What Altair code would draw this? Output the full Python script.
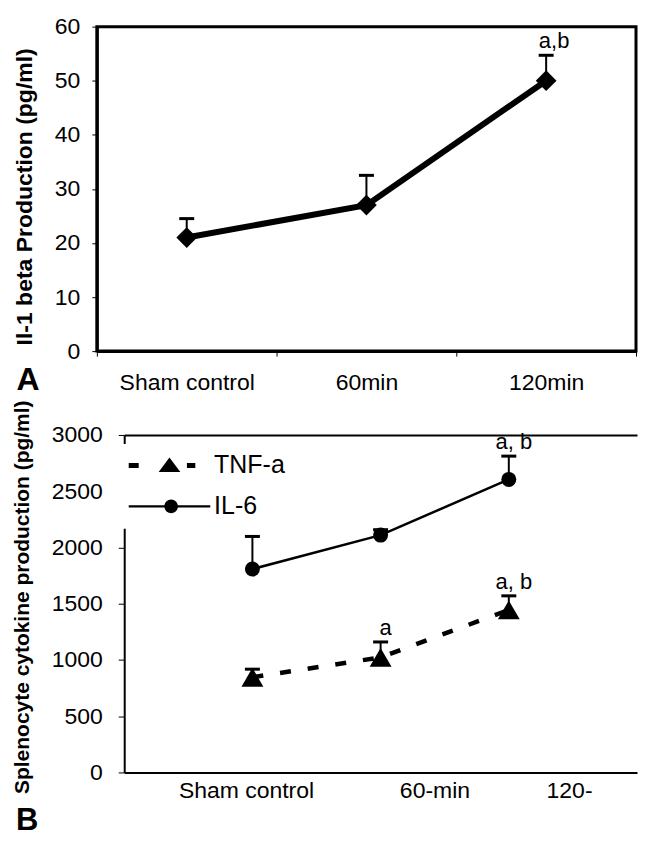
import altair as alt
import pandas as pd

# ---------------- Panel A data ----------------
a_cats = ["Sham control", "60min", "120min"]
a_mean = [21.0, 27.0, 50.0]
a_sem = [3.5, 5.5, 4.7]
a_notes = ["", "", "a,b"]

# ---------------- Panel B data ----------------
b_cats = ["Sham control", "60-min", "120-"]
b_pos = [1, 2, 3]
legend_labels = ["TNF-a", "IL-6"]
tnf_mean = [846, 1023, 1445]
tnf_sem = [72, 137, 125]
tnf_notes = ["", "a", "a, b"]
il6_mean = [1808, 2110, 2605]
il6_sem = [290, 48, 207]
il6_notes = ["", "", "a, b"]

FONT = "Liberation Sans"
W = 540          # common view width of both panels
SHIFT_B = 27.4   # panel B's y-axis sits this far right of panel A's

dfA = pd.DataFrame({
    "cat": a_cats,
    "mean": a_mean,
    "top": [m + s for m, s in zip(a_mean, a_sem)],
    "note": a_notes,
})

rows = []
for name, means, sems, notes in [
    (legend_labels[0], tnf_mean, tnf_sem, tnf_notes),
    (legend_labels[1], il6_mean, il6_sem, il6_notes),
]:
    for p, m, s, n in zip(b_pos, means, sems, notes):
        rows.append({"series": name, "pos": p, "mean": m, "top": m + s, "note": n})
dfB = pd.DataFrame(rows)

# ---------------- Panel A ----------------
xA = alt.X(
    "cat:N", sort=a_cats,
    scale=alt.Scale(paddingInner=0, paddingOuter=0),
    axis=alt.Axis(
        title="A", titleX=-81, titleY=38, titleAlign="left",
        titleBaseline="alphabetic", titleFontSize=32, titleFontWeight="bold",
        labelAngle=0, labelFontSize=23, labelPadding=15, tickSize=5,
        tickBand="extent", domainWidth=3,
    ),
)
yA = alt.Y(
    "mean:Q",
    scale=alt.Scale(domain=[0, 60], nice=False),
    axis=alt.Axis(
        values=[0, 10, 20, 30, 40, 50, 60], format="d",
        title="Il-1 beta Production (pg/ml)", titleFontSize=23,
        titleFontWeight="bold", titlePadding=18, titleY=170,
        labelFontSize=23, labelPadding=12, tickSize=5, domainWidth=3,
    ),
)

baseA = alt.Chart(dfA)
stemsA = baseA.mark_rule(color="black", strokeWidth=2).encode(
    x=xA, y=yA, y2="top:Q")
capsA = baseA.mark_tick(color="black", thickness=3, size=15,
                        orient="horizontal", opacity=1).encode(x=xA, y="top:Q")
lineA = baseA.mark_line(color="black", strokeWidth=6).encode(x=xA, y=yA)
ptsA = baseA.mark_point(shape="diamond", filled=True, size=430,
                        color="black", opacity=1).encode(x=xA, y=yA)
notesA = baseA.mark_text(dx=8, dy=-7, fontSize=22, baseline="alphabetic",
                         align="center", color="black").encode(
    x=xA, y="top:Q", text="note:N")

chartA = alt.layer(stemsA, capsA, lineA, ptsA, notesA).properties(
    width=W, height=325,
    view=alt.ViewBackground(stroke="black", strokeWidth=3),
)

# ---------------- Panel B ----------------
label_expr = (
    f"datum.value < 1.5 ? '{b_cats[0]}' : "
    f"(datum.value < 3 ? '{b_cats[1]}' : '{b_cats[2]}')"
)
xB = alt.X(
    "pos:Q",
    scale=alt.Scale(domain=[0, 4], nice=False, range=[SHIFT_B, W + 1]),
    axis=alt.Axis(
        values=[0.95, 2.42, 3.47], labelExpr=label_expr,
        title="B", titleX=-81.6, titleY=57, titleAlign="left",
        titleBaseline="alphabetic", titleFontSize=31, titleFontWeight="bold",
        labelFontSize=23, labelPadding=7, ticks=False, domainWidth=2,
        labelFlush=False, labelOverlap=False,
    ),
)
yB = alt.Y(
    "mean:Q",
    scale=alt.Scale(domain=[0, 3000], nice=False),
    axis=alt.Axis(
        values=[0, 500, 1000, 1500, 2000, 2500, 3000], format="d",
        offset=-SHIFT_B,
        title="Splenocyte cytokine production (pg/ml)", titleFontSize=21,
        titleFontWeight="bold", titlePadding=19, titleY=162,
        labelFontSize=23, labelPadding=16, tickSize=6, domainWidth=2,
    ),
)

baseB = alt.Chart(dfB)
tnfB = baseB.transform_filter(alt.datum.series == legend_labels[0])
il6B = baseB.transform_filter(alt.datum.series == legend_labels[1])

stemsB = baseB.mark_rule(color="black", strokeWidth=2).encode(
    x=xB, y=yB, y2="top:Q")
capsB = baseB.mark_tick(color="black", thickness=3, size=15,
                        orient="horizontal", opacity=1).encode(x=xB, y="top:Q")
lineIL6 = il6B.mark_line(color="black", strokeWidth=2.5).encode(x=xB, y=yB)
lineTNF = tnfB.mark_line(color="black", strokeWidth=4.5,
                         strokeDash=[11, 17]).encode(x=xB, y=yB)
ptsIL6 = il6B.mark_point(shape="circle", filled=True, size=225,
                         color="black", opacity=1).encode(x=xB, y=yB)
ptsTNF = tnfB.mark_point(shape="triangle-up", filled=True, size=480,
                         color="black", opacity=1).encode(x=xB, y=yB)
notesB = baseB.mark_text(dx=5, dy=-7, fontSize=22, baseline="alphabetic",
                         align="center", color="black").encode(
    x=xB, y="top:Q", text="note:N")

mainB = alt.layer(stemsB, capsB, lineTNF, lineIL6, ptsTNF, ptsIL6, notesB)

tnf_path = ("M-1,-0.25H0V0.25H-1Z "
            "M2,0.65L3.08,-0.8L4.17,0.65Z "
            "M4.83,-0.25H5.67V0.25H4.83Z")
il6_path = ("M-1,-0.12H2.65V0.12H-1Z "
            "M3.85,-0.12H7.17V0.12H3.85Z "
            "M3.93,0A0.68,0.68 0 1,1 2.57,0A0.68,0.68 0 1,1 3.93,0Z")

legendB = baseB.transform_filter("false").mark_point(
    filled=True, color="black", opacity=1, strokeWidth=0).encode(
    x=alt.X("pos:Q", scale=alt.Scale(domain=[0, 4], nice=False, range=[SHIFT_B, W + 1]),
            axis=alt.Axis(orient="top", title=None, labels=False, ticks=False,
                          domainWidth=2, domainColor="black")),
    shape=alt.Shape(
        "series:N",
        scale=alt.Scale(domain=legend_labels, range=[tnf_path, il6_path]),
        legend=alt.Legend(
            title=None, orient="none", legendX=SHIFT_B - 7, legendY=9,
            fillColor="white", padding=9, symbolSize=400,
            symbolFillColor="black", symbolStrokeWidth=0,
            symbolStrokeColor="black",
            labelFontSize=25, labelOffset=63, rowPadding=15,
            labelFont=FONT, labelColor="black",
        ),
    ),
)

chartB = alt.layer(mainB, legendB).resolve_scale(x="independent").properties(
    width=W, height=338)

chart = alt.vconcat(chartA, chartB, spacing=2).resolve_scale(
    shape="independent").resolve_legend(shape="independent").properties(
    padding={"left": 3, "top": 5, "right": 0, "bottom": 0}
).configure_view(stroke=None).configure_axis(
    grid=False, labelFont=FONT, titleFont=FONT, labelColor="black",
    titleColor="black", tickColor="black", domainColor="black", tickWidth=1,
).configure_text(font=FONT).configure_legend(labelFont=FONT)

chart.save("out.html", embed_options={"renderer": "svg", "actions": False})
